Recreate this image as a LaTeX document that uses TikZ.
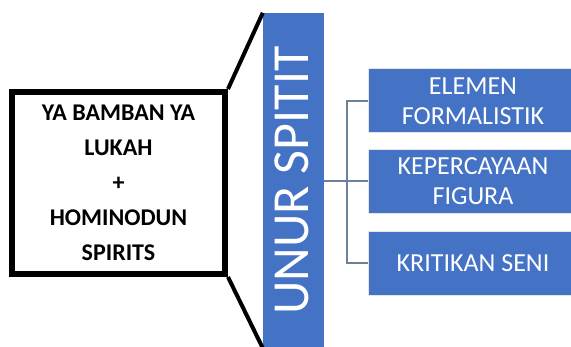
\documentclass[tikz,border=0pt]{standalone}
\usepackage{fontspec}
\setmainfont{Carlito}
\definecolor{officeblue}{HTML}{4472C4}
\definecolor{branchgray}{HTML}{6E7F99}
\begin{document}
\begin{tikzpicture}[x=1pt,y=-1pt,
    srcbox/.style={draw=black,line width=6pt,minimum width=213pt,minimum height=182pt,
      align=center,font=\bfseries\fontsize{24}{35}\selectfont},
    barbox/.style={fill=officeblue,minimum width=61pt,minimum height=335pt,inner sep=0pt},
    itembox/.style={fill=officeblue,draw=gray!20,line width=1pt,minimum width=210pt,
      minimum height=64pt,align=center,text=white,font=\fontsize{26}{30}\selectfont},
    branch/.style={draw=branchgray,line width=2pt}]
  \useasboundingbox (0,0) rectangle (571,347);
  \node[srcbox] (src) at (118.5,183) {YA BAMBAN YA\\LUKAH\\+\\HOMINODUN\\SPIRITS};
  \node[barbox] (bar) at (293.5,180.5) {};
  \node[rotate=90,text=white,font=\fontsize{52}{52}\selectfont] (unur) at (292,180.5) {UNUR SPITIT};
  \draw[line width=4pt] (src.north east) -- (bar.north west);
  \draw[line width=4pt] (src.south east) -- (bar.south west);
  \node[itembox] (elemen) at (473,101)   {ELEMEN\\FORMALISTIK};
  \node[itembox] (figura) at (473,181.5) {KEPERCAYAAN\\FIGURA};
  \node[itembox] (kritik) at (473,263.5) {KRITIKAN SENI};
  \coordinate (fork) at (347,181.5);
  \draw[branch] (bar.east |- figura.west) -- (figura.west);
  \draw[branch] (elemen.west) -| (fork) |- (kritik.west);
\end{tikzpicture}
\end{document}
